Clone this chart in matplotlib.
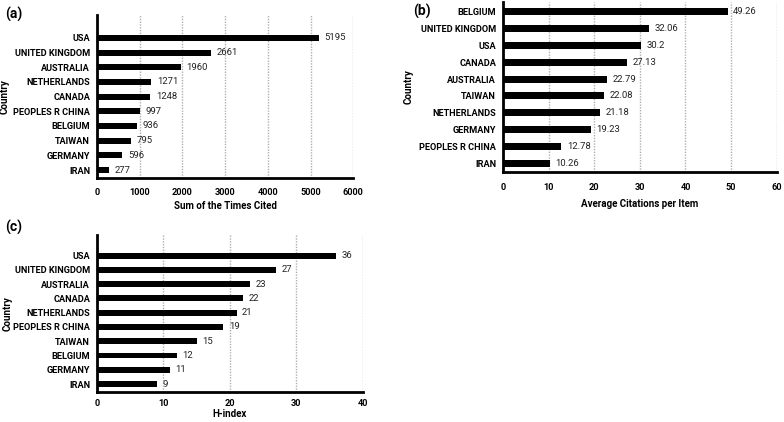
import matplotlib
matplotlib.use("Agg")
from matplotlib import pyplot

pyplot.rcParams["font.family"] = ["Roboto", "DejaVu Sans"]
pyplot.rcParams["font.size"] = 6.6

# (a) sum of the times cited
countries_a = ["USA", "UNITED KINGDOM", "AUSTRALIA", "NETHERLANDS", "CANADA",
               "PEOPLES R CHINA", "BELGIUM", "TAIWAN", "GERMANY", "IRAN"]
cited_a = [5195, 2661, 1960, 1271, 1248, 997, 936, 795, 596, 277]

# (b) average citations per item
countries_b = ["BELGIUM", "UNITED KINGDOM", "USA", "CANADA", "AUSTRALIA",
               "TAIWAN", "NETHERLANDS", "GERMANY", "PEOPLES R CHINA", "IRAN"]
avg_b = [49.26, 32.06, 30.2, 27.13, 22.79, 22.08, 21.18, 19.23, 12.78, 10.26]

# (c) h-index
countries_c = ["USA", "UNITED KINGDOM", "AUSTRALIA", "CANADA", "NETHERLANDS",
               "PEOPLES R CHINA", "TAIWAN", "BELGIUM", "GERMANY", "IRAN"]
hindex_c = [36, 27, 23, 22, 21, 19, 15, 12, 11, 9]

fig = pyplot.figure(figsize=(7.84, 4.22), dpi=100)


def panel(rect, names, values, xmax, xstep, xlabel, ylim, ylab_x, xpad,
          xlab_pad):
    ax = fig.add_axes(rect)
    pos = list(range(len(names)))[::-1]
    bars = ax.barh(pos, values, height=0.42, color="black")
    ax.bar_label(bars, labels=[str(v) for v in values], padding=4,
                 fontsize=6.8, color="#222222")
    ax.set_yticks(pos)
    ax.set_yticklabels(names, fontweight="bold")
    ax.set_xlim(0, xmax)
    ax.set_xticks(range(0, xmax + 1, xstep))
    for lab in ax.get_xticklabels():
        lab.set_fontweight("bold")
    ax.set_ylim(*ylim)
    ax.tick_params(length=0, pad=5)
    ax.tick_params(axis="x", pad=xpad)
    ax.grid(axis="x", color="#b0b0b0", linestyle=(0, (1, 1)), linewidth=1)
    ax.set_axisbelow(True)
    for s in ["top", "right"]:
        ax.spines[s].set_visible(False)
    for s in ["left", "bottom"]:
        ax.spines[s].set_linewidth(2)
    ax.set_xlabel(xlabel, fontweight="bold", fontsize=7, labelpad=xlab_pad)
    ax.set_ylabel("Country", fontweight="bold", fontsize=7)
    ax.yaxis.set_label_coords(ylab_x, 0.5)
    return ax


panel([0.1237, 0.578, 0.327, 0.386], countries_a, cited_a, 6000, 1000,
      "Sum of the Times Cited", (-0.55, 10.55), -0.34, 7, 3)
panel([0.6416, 0.5924, 0.349, 0.403], countries_b, avg_b, 60, 10,
      "Average Citations per Item", (-0.52, 9.58), -0.328, 8, 5)
panel([0.1237, 0.0711, 0.339, 0.372], countries_c, hindex_c, 40, 10,
      "H-index", (-0.56, 10.45), -0.316, 5, 1)

fig.text(0.006, 0.965, "(a)", fontsize=10, fontweight="bold", va="center")
fig.text(0.527, 0.972, "(b)", fontsize=10, fontweight="bold", va="center")
fig.text(0.006, 0.462, "(c)", fontsize=10, fontweight="bold", va="center")

fig.savefig("out.png", dpi=100)
